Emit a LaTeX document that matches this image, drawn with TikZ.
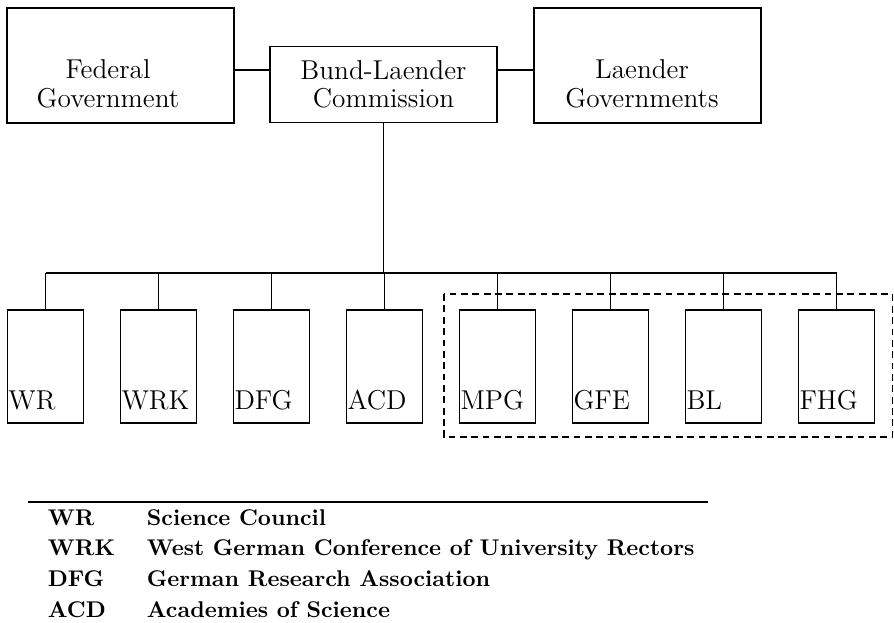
\documentclass[tikz,border=0pt]{standalone}
\usepackage{tikz}
\usetikzlibrary{positioning}

\begin{document}
\begin{tikzpicture}[x=0.44pt,y=-0.44pt,line width=0.8pt,
        govbox/.style={draw,rectangle,inner sep=0pt,minimum width=227*0.44pt},
        orgbox/.style={draw,rectangle,inner sep=0pt,minimum width=76*0.44pt,minimum height=113*0.44pt},
        boxtext/.style={align=center,inner sep=0pt,font=\fontsize{12}{12.5}\selectfont},
        legtext/.style={anchor=base west,inner sep=0pt,font=\bfseries}]
                \useasboundingbox (0,0) rectangle (894,622);
                \node[govbox,minimum height=115*0.44pt] (fedgov) at (120.5,65.5) {};
                \node[govbox,minimum height=76*0.44pt] (blc) at (383.5,84.5) {};
                \node[govbox,minimum height=115*0.44pt] (laegov) at (647.5,65.5) {};
                \node[boxtext] (fedtxt) at (108,84) {Federal\\Government};
                \node[boxtext] (blctxt) at (blc.center) {Bund-Laender\\Commission};
                \node[boxtext] (laetxt) at (642,84) {Laender\\Governments};
                \draw ([yshift=-2pt]fedgov.east) -- ([yshift=-2pt]fedgov.east -| blc.west);
                \draw ([yshift=-2pt]laegov.west) -- ([yshift=-2pt]laegov.west -| blc.east);

                \coordinate (bus) at (0,273);
                \foreach \n [count=\i, evaluate={\xx=45.5+113*(\i-1)}] in {WR,WRK,DFG,ACD,MPG,GFE,BL,FHG}{
                    \node[orgbox] (\n) at (\xx,366.5) {};
                    \node[boxtext,anchor=base west] (\n-lbl) at ([shift={(1,-14)}]\n.south west) {\n};
                    \draw (\n.north) -- (\n.north |- bus);
                }
                \draw (WR.north |- bus) -- (FHG.north |- bus);
                \draw (blc.south) -- (blc.south |- bus);
                \draw[dash pattern=on 3pt off 2pt] ([shift={(-15,-15)}]MPG.north west) rectangle ([shift={(17,13)}]FHG.south east);

                % legend
                \coordinate (rulel) at (28,502);
                \coordinate (ruler) at (708,502);
                \draw (rulel) -- (ruler);
                \foreach \ab/\txt [count=\i, evaluate={\yy=525+30.8*(\i-1)}] in {WR/Science Council,WRK/West German Conference of University Rectors,DFG/German Research Association,ACD/Academies of Science}{
                    \node[legtext] (abbr\i) at (47,\yy) {\ab};
                    \node[legtext] (desc\i) at (146,\yy) {\txt};
                }
            \end{tikzpicture}
\end{document}
